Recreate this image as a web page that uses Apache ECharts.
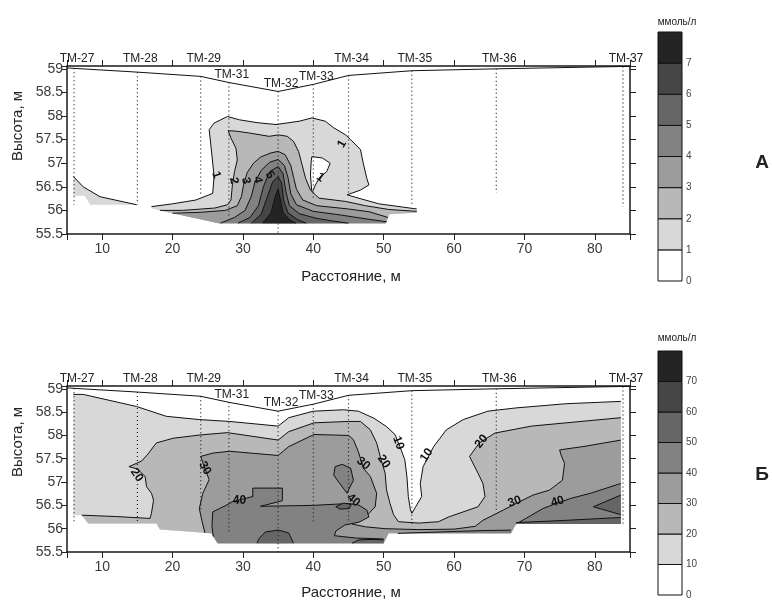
<!DOCTYPE html>
<html>
<head>
<meta charset="utf-8">
<script src="https://cdn.jsdelivr.net/npm/echarts@6/dist/echarts.min.js"></script>
<style>
html, body { margin: 0; padding: 0; background: #fff; }
#chart { width: 772px; height: 600px; }
</style>
</head>
<body>
<div id="chart"></div>
<script>
// скважины
const wellNames = ['ТМ-27', 'ТМ-28', 'ТМ-29', 'ТМ-31', 'ТМ-32', 'ТМ-33', 'ТМ-34', 'ТМ-35', 'ТМ-36', 'ТМ-37'];
const wellX = [6, 15, 24, 28, 35, 40, 45, 54, 66, 84];
const wellBottomA = [56.12, 56.12, 56.33, 55.87, 55.5, 56.27, 56.33, 56.08, 56.37, 56.08];
const wellBottomB = [56.12, 56.12, 56.36, 55.9, 55.5, 56.15, 56.15, 56.08, 56.4, 56.11];
// поверхность земли
const surface = [[5, 59.02], [6, 59.01], [15, 58.93], [24, 58.84], [28, 58.71], [35, 58.52], [40, 58.67], [45, 58.86], [54, 58.96], [66, 59.0], [84, 59.05], [85, 59.05]];

// шкалы
const levelsA = [0, 1, 2, 3, 4, 5, 6, 7];
const levelsB = [0, 10, 20, 30, 40, 50, 60, 70];
const greys = ['#ffffff', '#d8d8d8', '#b8b8b8', '#9c9c9c', '#828282', '#666666', '#464646', '#242424'];

// А: изолинии (line) и граница области данных (edge)
const aTail = [[5.9, 56.72], [7.3, 56.5], [9.7, 56.29], [14.9, 56.12]];
const aTailEdge = [[8.3, 56.12], [7.5, 56.31], [5.9, 56.31]];
const aC1 = [[17.0, 56.08], [20, 56.14], [23.3, 56.22], [25.7, 56.36], [25.9, 56.72], [25.5, 57.3], [25.2, 57.71], [25.9, 57.85], [27.8, 57.99], [29.5, 57.92], [32, 57.86], [34.7, 57.82], [38.0, 57.89], [39.8, 57.96], [41.7, 57.89], [42.9, 57.75], [44.6, 57.6], [45.3, 57.5], [46.7, 57.29], [47.1, 57.0], [47.6, 56.68], [47.9, 56.54], [46.7, 56.43], [44.8, 56.33], [46.9, 56.24], [49.3, 56.14], [54.7, 56.03]];
const aC1Edge = [[54.7, 55.95], [50.8, 55.92], [50.3, 55.73], [26.5, 55.73], [17.0, 56.04]];
const aHole = [[39.8, 57.14], [41.3, 57.11], [42.4, 57.0], [41.9, 56.82], [41.0, 56.72], [40.3, 56.54], [39.8, 56.36], [39.6, 56.75], [39.7, 57.04]];
const aC2 = [[18.2, 56.0], [21.4, 56.0], [26, 56.05], [27.8, 56.12], [28.3, 56.22], [28.5, 56.54], [28.8, 56.82], [29.2, 57.07], [29.0, 57.32], [28.3, 57.53], [27.9, 57.69], [29.0, 57.68], [30.9, 57.64], [33.7, 57.57], [35.1, 57.6], [36.3, 57.57], [37.2, 57.46], [37.9, 57.25], [38.4, 56.97], [38.9, 56.68], [39.6, 56.43], [40.8, 56.26], [44.6, 56.19], [47.4, 56.1], [50.7, 56.02], [54.7, 55.98]];
const aC2Edge = [[54.7, 55.95], [50.8, 55.92], [50.3, 55.73], [26.5, 55.73]];
const aC3 = [[20, 55.94], [24, 55.96], [27.5, 56.0], [29.2, 56.1], [29.8, 56.3], [30.1, 56.55], [30.6, 56.8], [31.5, 57.0], [32.5, 57.13], [34, 57.22], [35, 57.25], [36, 57.18], [36.8, 56.95], [37.2, 56.7], [37.6, 56.45], [38.5, 56.22], [40.5, 56.1], [45, 56.03], [48, 55.97], [50.6, 55.85]];
const aC3Edge = [[50.3, 55.73], [26.5, 55.73]];
const aC4 = [[26.8, 55.73], [28.8, 55.85], [30.3, 56.0], [31.2, 56.3], [31.7, 56.6], [32.6, 56.85], [33.8, 57.02], [35, 57.08], [35.9, 56.95], [36.4, 56.7], [36.8, 56.35], [37.6, 56.12], [40, 55.98], [44, 55.9], [47.5, 55.82], [50.4, 55.76]];
const aC4Edge = [[50.3, 55.73]];
const aC5 = [[29.3, 55.73], [31, 55.85], [32.2, 56.1], [32.9, 56.5], [33.8, 56.82], [35, 56.93], [35.7, 56.78], [36.1, 56.4], [36.6, 56.1], [38, 55.93], [40.5, 55.83], [43, 55.77], [45, 55.73]];
const aC6 = [[31.2, 55.73], [32.6, 55.92], [33.5, 56.3], [34.2, 56.6], [35, 56.72], [35.5, 56.58], [35.8, 56.2], [36.4, 55.95], [37.8, 55.8], [39, 55.73]];
const aC7 = [[32.8, 55.73], [34.0, 55.95], [34.6, 56.3], [35, 56.45], [35.3, 56.25], [35.7, 55.95], [36.6, 55.8], [37.5, 55.73]];
const aLabels = [['1', 26.2, 56.75, -70], ['2', 28.7, 56.63, -80], ['3', 30.4, 56.63, -80], ['4', 32.1, 56.65, -80], ['5', 33.8, 56.75, -60], ['1', 44.1, 57.41, 60], ['1', 41.0, 56.7, -35]];

// Б
const bC10 = [[5.9, 58.88], [7.3, 58.88], [14.9, 58.62], [19.1, 58.41], [23.8, 58.34], [28.1, 58.3], [35.0, 58.2], [36.5, 58.38], [40.0, 58.52], [44.3, 58.55], [46.4, 58.52], [48.6, 58.37], [50.4, 58.19], [51.6, 58.02], [52.3, 57.76], [53.0, 57.48], [53.3, 57.12], [53.5, 56.69], [53.8, 56.4], [54.0, 56.33], [55.4, 56.69], [55.2, 56.97], [55.6, 57.33], [57.1, 57.76], [58.9, 58.12], [61.3, 58.34], [64.8, 58.52], [68.8, 58.59], [75.9, 58.68], [83.7, 58.73]];
const bEdge = [[83.7, 56.1], [68.8, 56.1], [68.1, 55.9], [50.7, 55.9], [50.0, 55.69], [26.4, 55.69], [25.5, 55.9], [18.2, 55.98], [17.7, 56.11], [8.0, 56.11], [7.1, 56.29], [5.9, 56.29]];
const bC20 = [[7.1, 56.29], [12, 56.26], [16.8, 56.22], [17.0, 56.33], [17.3, 56.61], [17.0, 56.76], [16.3, 56.9], [16.1, 57.12], [15.0, 57.28], [13.8, 57.33], [15.6, 57.45], [16.5, 57.6], [17.7, 57.84], [20.1, 57.94], [23.9, 58.01], [27.8, 58.06], [35.0, 57.9], [36.5, 58.08], [40.1, 58.27], [45, 58.3], [46.7, 58.3], [48.1, 58.12], [49.0, 57.84], [49.5, 57.55], [50.2, 57.19], [50.4, 56.83], [50.9, 56.54], [51.4, 56.3], [52.1, 56.15], [55, 56.12], [57.8, 56.15], [59.2, 56.25], [63.4, 56.47], [64.4, 56.69], [64.1, 56.97], [63.4, 57.19], [62.2, 57.55], [63.6, 57.84], [65.8, 58.05], [71.0, 58.2], [83.7, 58.38]];
const bC20Edge = [[83.7, 56.1], [68.8, 56.1], [68.1, 55.9], [50.7, 55.9], [50.0, 55.69], [26.4, 55.69], [25.5, 55.9], [18.2, 55.98], [17.7, 56.11], [8.0, 56.11]];
const bC30 = [[24.6, 55.91], [24.2, 56.15], [23.8, 56.43], [24.3, 56.76], [25.2, 57.05], [24.5, 57.33], [24.0, 57.55], [25.7, 57.62], [28.1, 57.66], [35.0, 57.57], [36.5, 57.76], [40.1, 58.02], [45, 58.0], [45.7, 57.91], [46.4, 57.65], [47.1, 57.3], [48.1, 57.12], [49.0, 56.76], [48.8, 56.47], [47.4, 56.25], [46.0, 56.18], [45.5, 56.1], [47.4, 56.04], [50.2, 56.0], [55, 55.98], [60, 55.99], [63, 56.05], [64.1, 56.18], [67.0, 56.4], [68.8, 56.54], [71.2, 56.72], [73.6, 56.83], [75.4, 57.04], [75.7, 57.4], [75.2, 57.58], [75.0, 57.69], [78.3, 57.76], [83.7, 57.9]];
const bC30Edge = [[83.7, 56.1], [68.8, 56.1], [68.1, 55.9], [50.7, 55.9], [50.0, 55.69], [26.4, 55.69], [25.5, 55.9]];
const bC40 = [[25.8, 55.83], [25.6, 56.05], [25.7, 56.36], [27.6, 56.5], [28.5, 56.58], [31.4, 56.69], [31.4, 56.87], [35.6, 56.87], [35.6, 56.6], [32.5, 56.48], [40, 56.5], [45, 56.54], [46.4, 56.51], [47.6, 56.4], [47.9, 56.25], [46.5, 56.14], [44.5, 56.08], [43.2, 55.95], [43.0, 55.85], [46, 55.8], [50.0, 55.78]];
const bC40Edge = [[50.0, 55.69], [26.4, 55.69]];
const bBlob40 = [[42.9, 57.15], [43.1, 57.33], [44.1, 57.38], [45.3, 57.3], [45.7, 57.04], [45.0, 56.83], [44.8, 56.76], [43.6, 57.0]];
const bRight40 = [[68.8, 56.1], [70.2, 56.22], [72.6, 56.43], [74.7, 56.55], [76.6, 56.65], [79.4, 56.76], [83.7, 56.97]];
const bRight40Edge = [[83.7, 56.1]];
const bStrip40 = [[52, 55.9], [58, 55.93], [64, 55.96], [68.1, 55.97]];
const bStrip40Edge = [[68.1, 55.9]];
const bPit50 = [[32.0, 55.69], [32.3, 55.79], [33.2, 55.93], [35.0, 55.97], [36.5, 55.91], [37.0, 55.75], [37.2, 55.69]];
const bFoot50 = [[45.5, 55.69], [46.5, 55.76], [48.5, 55.77], [50.0, 55.76]];
const bFoot50Edge = [[50.0, 55.69]];
const bSpot50 = [[43.2, 56.47], [44.3, 56.55], [45.4, 56.52], [45.1, 56.43], [43.8, 56.42]];
const bWedge50 = [[83.7, 56.72], [79.8, 56.47], [83.7, 56.3]];
const bBase50 = [[68.8, 56.13], [76, 56.18], [83.7, 56.24]];
const bBase50Edge = [[83.7, 56.1], [68.8, 56.1]];
const bLabels = [['20', 14.9, 57.15, -55], ['30', 24.6, 57.3, -60], ['40', 29.5, 56.61, 0], ['30', 47.1, 57.4, -40], ['20', 50.0, 57.44, -55], ['10', 52.1, 57.84, -70], ['40', 45.7, 56.61, -40], ['10', 56.1, 57.58, 55], ['20', 63.9, 57.87, 50], ['30', 68.6, 56.58, 20], ['40', 74.7, 56.58, 15]];

const shapesA = [
    {level: 1, line: aTail, edge: aTailEdge},
    {level: 1, line: aC1, edge: aC1Edge},
    {level: 0, line: aHole},
    {level: 2, line: aC2, edge: aC2Edge},
    {level: 3, line: aC3, edge: aC3Edge},
    {level: 4, line: aC4, edge: aC4Edge},
    {level: 5, line: aC5, edge: []},
    {level: 6, line: aC6, edge: []},
    {level: 7, line: aC7, edge: []}
];
const shapesB = [
    {level: 1, line: bC10, edge: bEdge},
    {level: 2, line: bC20, edge: bC20Edge},
    {level: 3, line: bC30, edge: bC30Edge},
    {level: 4, line: bC40, edge: bC40Edge},
    {level: 4, line: bBlob40},
    {level: 4, line: bRight40, edge: bRight40Edge},
    {level: 4, line: bStrip40, edge: bStrip40Edge},
    {level: 5, line: bPit50, edge: []},
    {level: 5, line: bFoot50, edge: bFoot50Edge},
    {level: 5, line: bSpot50},
    {level: 5, line: bWedge50, edge: []},
    {level: 5, line: bBase50, edge: bBase50Edge}
];

const FONT = 'Liberation Sans';

function surfaceAt(x) {
    for (let i = 1; i < surface.length; i++) {
        if (x <= surface[i][0]) {
            let a = surface[i - 1], b = surface[i];
            return a[1] + (b[1] - a[1]) * (x - a[0]) / (b[0] - a[0]);
        }
    }
    return surface[surface.length - 1][1];
}

let chart = echarts.init(document.getElementById('chart'));

const frame = {color: '#1a1a1a', width: 1.5};

function mainX(gi, top) {
    return {
        gridIndex: gi, type: 'value', min: 5, max: 85, splitNumber: 8, minInterval: 10, maxInterval: 10,
        position: top ? 'top' : 'bottom',
        axisLine: {onZero: false, lineStyle: frame},
        axisTick: {length: 6, lineStyle: {color: '#222'}},
        axisLabel: {
            show: !top, margin: 8, fontFamily: FONT, fontSize: 14, color: '#3a3a3a',
            formatter: v => (v % 10 === 0 ? String(v) : '')
        },
        splitLine: {show: false}
    };
}
function mainY(gi, right) {
    return {
        gridIndex: gi, type: 'value', min: 55.5, max: 59.06, interval: 0.5,
        position: right ? 'right' : 'left',
        axisLine: {onZero: false, lineStyle: frame},
        axisTick: {length: 6, lineStyle: {color: '#222'}},
        axisLabel: {
            show: !right, margin: 4, fontFamily: FONT, fontSize: 14, color: '#3a3a3a',
            formatter: v => (Math.abs(v * 2 - Math.round(v * 2)) < 1e-6 ? String(v) : '')
        },
        splitLine: {show: false}
    };
}
function barX(gi) {
    return {gridIndex: gi, type: 'value', min: 0, max: 1, show: false};
}
function barY(gi, levels) {
    let step = levels[1] - levels[0];
    let top = levels[levels.length - 1] + step;
    return {
        gridIndex: gi, type: 'value', min: 0, max: top, interval: step, position: 'right',
        axisLine: {show: false}, axisTick: {show: false}, splitLine: {show: false},
        axisLabel: {margin: 4, fontFamily: FONT, fontSize: 10, color: '#444', formatter: v => (v === top ? '' : String(v))}
    };
}

function fillSeries(shapes, xi, yi) {
    return {
        type: 'custom', xAxisIndex: xi, yAxisIndex: yi, clip: true, silent: true, z: 2,
        data: shapes.map((s, i) => [s.line[0][0], s.line[0][1], i]),
        renderItem: function (params, api) {
            let s = shapes[api.value(2)];
            let line = s.line.map(p => api.coord(p));
            let pts = s.edge ? line.concat(s.edge.map(p => api.coord(p))) : line;
            return {
                type: 'group',
                children: [
                    {type: 'polygon', shape: {points: pts}, style: {fill: greys[s.level], stroke: 'none'}},
                    {type: s.edge ? 'polyline' : 'polygon', shape: {points: line}, style: {fill: 'none', stroke: '#111', lineWidth: 1}}
                ]
            };
        }
    };
}
function labelSeries(labels, xi, yi) {
    return {
        type: 'custom', xAxisIndex: xi, yAxisIndex: yi, silent: true, z: 6,
        data: labels.map(l => [l[1], l[2], l[3]]),
        renderItem: function (params, api) {
            let p = api.coord([api.value(0), api.value(1)]);
            return {
                type: 'text', x: p[0], y: p[1], rotation: api.value(2) * Math.PI / 180,
                style: {text: labels[params.dataIndex][0], fontFamily: FONT, fontSize: 12, fontWeight: 'bold', fill: '#111', align: 'center', verticalAlign: 'middle'}
            };
        }
    };
}
function wellSeries(bottoms, xi, yi) {
    return {
        type: 'custom', xAxisIndex: xi, yAxisIndex: yi, silent: true, z: 4,
        data: wellX.map((x, i) => [x, bottoms[i]]),
        renderItem: function (params, api) {
            let x = api.value(0);
            let t = api.coord([x, surfaceAt(x)]);
            let b = api.coord([x, api.value(1)]);
            let cs = params.coordSys;
            let high = surfaceAt(x) > 58.8;
            let ly = high ? cs.y - 7 : t[1] - 8;
            return {
                type: 'group',
                children: [
                    {type: 'line', shape: {x1: t[0], y1: t[1], x2: b[0], y2: b[1]}, style: {stroke: '#222', lineWidth: 1.2, lineDash: [1, 3]}},
                    {type: 'text', x: t[0] + 3, y: ly, style: {text: wellNames[params.dataIndex], fontFamily: FONT, fontSize: 12, fill: '#222', align: 'center', verticalAlign: 'middle'}}
                ]
            };
        }
    };
}
function surfaceSeries(xi, yi) {
    return {
        type: 'line', xAxisIndex: xi, yAxisIndex: yi, data: surface, showSymbol: false, silent: true, z: 5,
        lineStyle: {color: '#111', width: 1}
    };
}
function barSeries(levels, xi, yi) {
    let step = levels[1] - levels[0];
    return {
        type: 'custom', xAxisIndex: xi, yAxisIndex: yi, silent: true,
        data: levels.map(v => [0, v]),
        renderItem: function (params, api) {
            let v = api.value(1);
            let a = api.coord([0, v + step]);
            let b = api.coord([1, v]);
            return {
                type: 'rect', shape: {x: a[0], y: a[1], width: b[0] - a[0], height: b[1] - a[1]},
                style: {fill: greys[params.dataIndex], stroke: '#111', lineWidth: 1}
            };
        }
    };
}

function txt(text, x, y, size, rot, weight) {
    return {
        type: 'text', x: x, y: y, rotation: rot || 0, silent: true,
        style: {text: text, fontFamily: FONT, fontSize: size, fontWeight: weight || 'normal', fill: '#222', align: 'center', verticalAlign: 'middle'}
    };
}

let option = {
    animation: false,
    backgroundColor: '#fff',
    grid: [
        {left: 67, top: 66, width: 563, height: 168},
        {left: 67, top: 386, width: 563, height: 166},
        {left: 658, top: 32, width: 24, height: 249},
        {left: 658, top: 351, width: 24, height: 247}
    ],
    xAxis: [mainX(0, false), mainX(0, true), mainX(1, false), mainX(1, true), barX(2), barX(3)],
    yAxis: [mainY(0, false), mainY(0, true), mainY(1, false), mainY(1, true), barY(2, levelsA), barY(3, levelsB)],
    series: [
        fillSeries(shapesA, 0, 0),
        wellSeries(wellBottomA, 0, 0),
        surfaceSeries(0, 0),
        labelSeries(aLabels, 0, 0),
        fillSeries(shapesB, 2, 2),
        wellSeries(wellBottomB, 2, 2),
        surfaceSeries(2, 2),
        labelSeries(bLabels, 2, 2),
        barSeries(levelsA, 4, 4),
        barSeries(levelsB, 5, 5)
    ],
    graphic: [
        txt('Высота, м', 18, 126, 15, Math.PI / 2),
        txt('Высота, м', 18, 442, 15, Math.PI / 2),
        txt('Расстояние, м', 351, 277, 15),
        txt('Расстояние, м', 351, 593, 15),
        txt('ммоль/л', 677, 22, 10),
        txt('ммоль/л', 677, 338, 10),
        txt('А', 762, 163, 19, 0, 'bold'),
        txt('Б', 762, 475, 19, 0, 'bold')
    ]
};
chart.setOption(option);
</script>
</body>
</html>
